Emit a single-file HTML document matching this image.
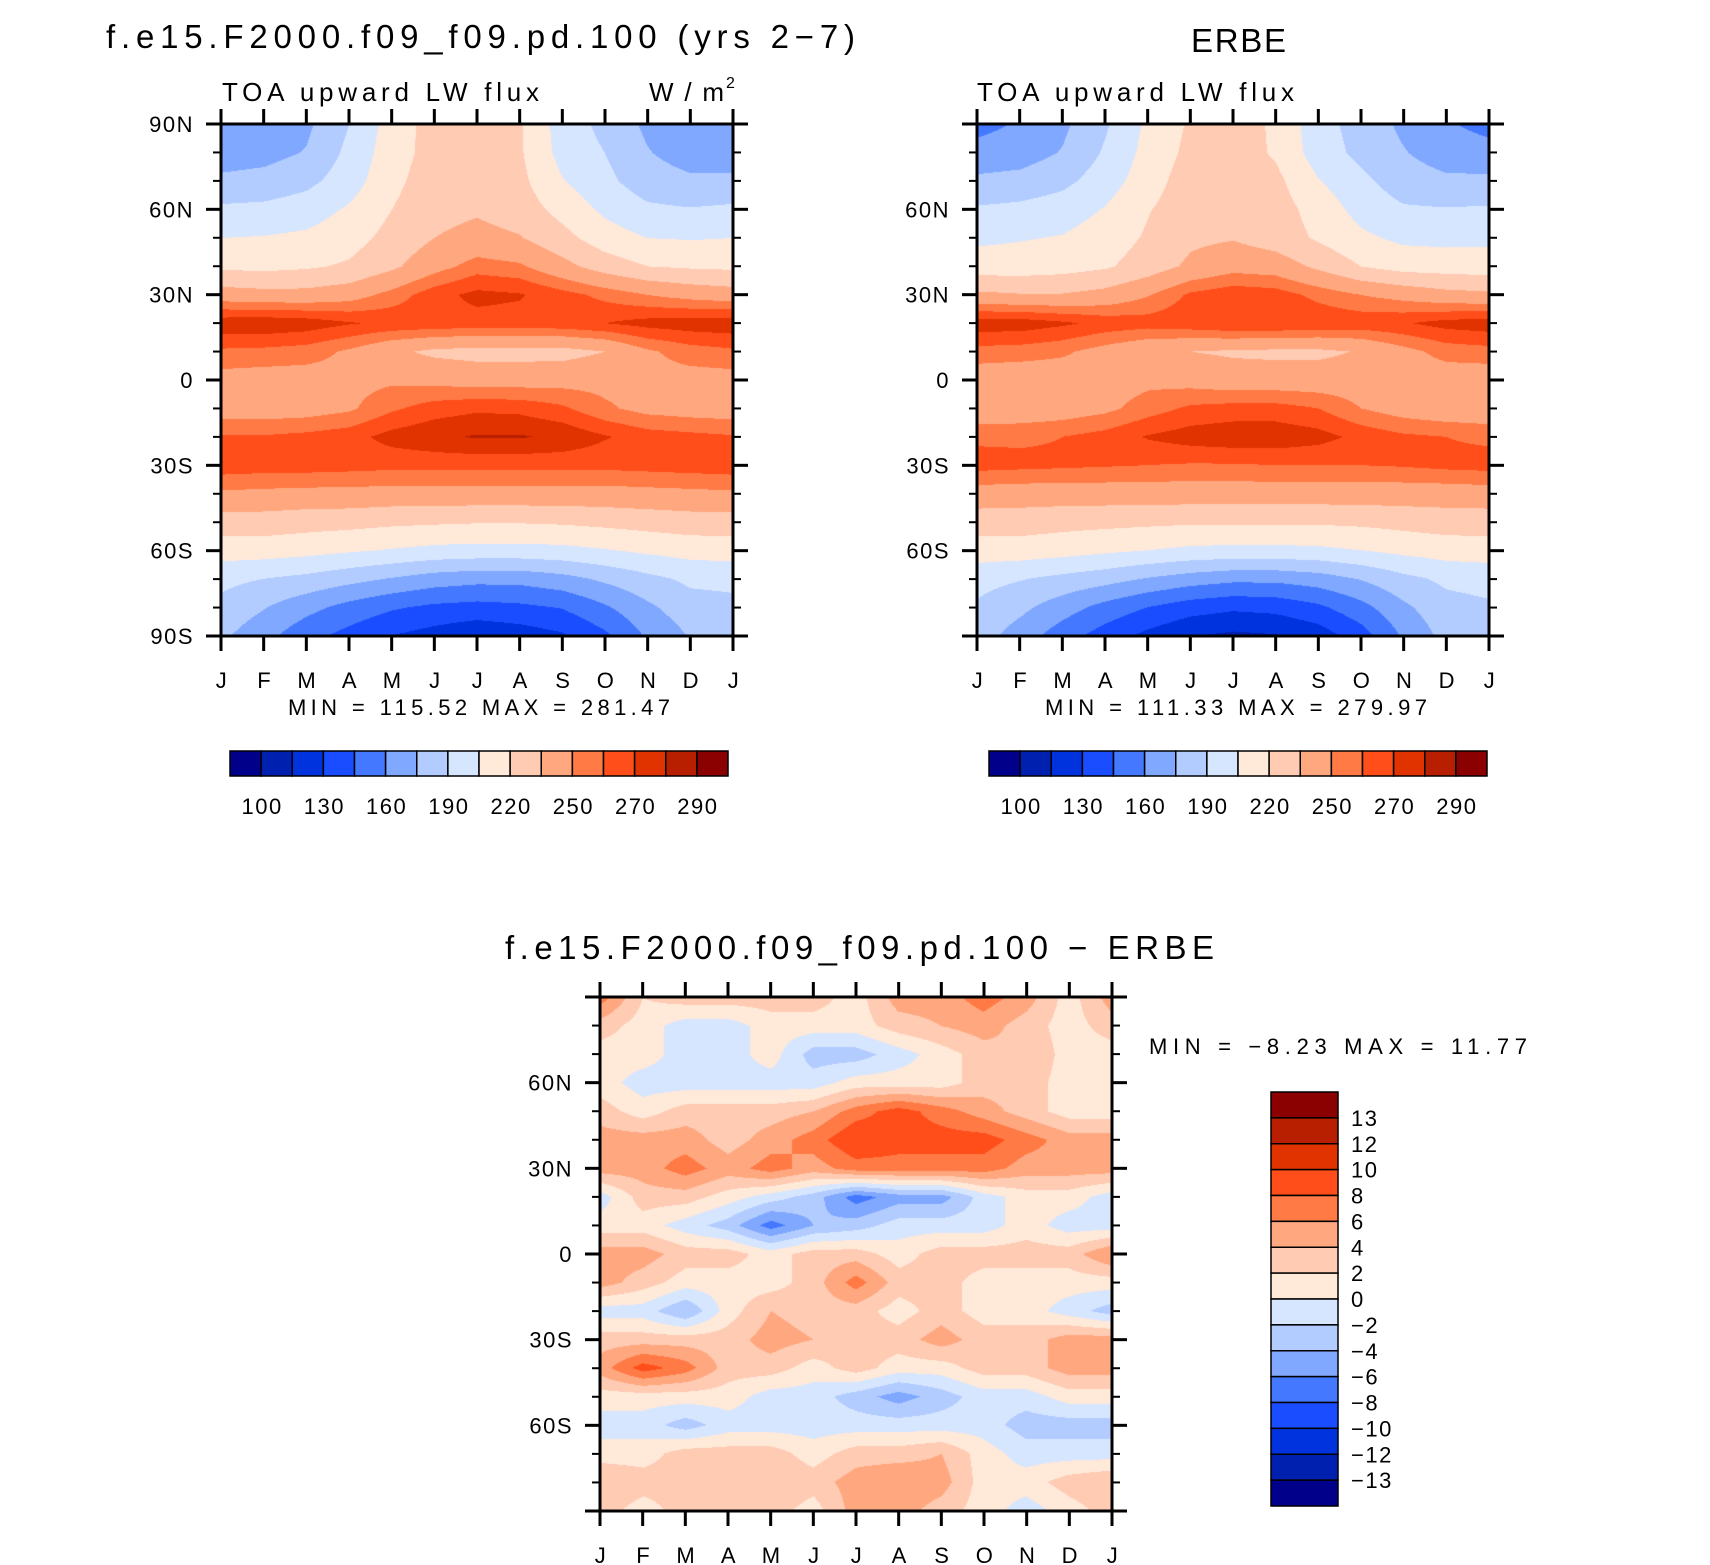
<!DOCTYPE html>
<html><head><meta charset="utf-8">
<style>
html,body{margin:0;padding:0;background:#fff;}
#wrap{position:relative;width:1710px;height:1565px;overflow:hidden;font-family:"Liberation Sans",sans-serif;}
canvas{position:absolute;}
svg{position:absolute;left:0;top:0;}
</style></head>
<body>
<div id="wrap">
<canvas id="c1" width="512" height="512" style="left:221px;top:124px"></canvas>
<canvas id="c2" width="512" height="512" style="left:977px;top:124px"></canvas>
<canvas id="c3" width="512" height="514" style="left:600px;top:997px"></canvas>
<svg id="ov" width="1710" height="1565"></svg>
</div>
<script>
const months = ["J","F","M","A","M","J","J","A","S","O","N","D","J"];
const latLabelsFull = ["90N","60N","30N","0","30S","60S","90S"];
const latLabelsPart = ["","60N","30N","0","30S","60S",""];
const absLevels = [100,115,130,145,160,175,190,205,220,235,250,260,270,280,290];
const absTickLabels = ["100","130","160","190","220","250","270","290"];
const diffLevels = [-13,-12,-10,-8,-6,-4,-2,0,2,4,6,8,10,12,13];
const diffTickLabels = ["13","12","10","8","6","4","2","0","\u22122","\u22124","\u22126","\u22128","\u221210","\u221212","\u221213"];
const colors = ["#00008a","#0020b0","#0033dd","#1a4dff","#4479ff","#80a8ff","#b3ccff","#d6e6ff","#ffe9d9","#ffcbb3","#ffa880","#ff7a45","#ff4e1a","#e03300","#b81e00","#8b0000"];
const modelVals = [
[165,166,172,190,212,226,228,222,198,186,172,166,165],
[168,170,176,194,213,226,228,222,200,190,176,168,168],
[178,180,186,198,216,228,230,224,206,194,182,178,178],
[193,194,198,207,220,230,233,228,215,202,193,191,193],
[205,206,208,214,225,235,240,236,225,212,205,204,205],
[217,216,218,222,232,245,255,252,240,228,220,218,217],
[242,240,240,244,254,266,273,271,264,257,250,245,242],
[277,278,276,271,268,267,266,266,267,270,274,276,277],
[258,257,255,248,238,232,230,230,230,235,248,255,258],
[245,244,244,246,248,246,244,244,245,246,246,245,245],
[243,243,244,248,258,265,268,267,262,252,246,244,243],
[261,261,263,266,274,278,281,281,278,271,265,263,261],
[266,265,265,264,263,263,263,263,263,263,264,265,266],
[248,247,246,246,245,245,245,245,245,245,246,247,248],
[228,228,226,225,223,222,221,221,222,224,226,228,228],
[212,212,210,207,204,201,200,200,201,204,208,211,212],
[194,190,186,180,174,168,165,165,170,178,186,193,194],
[186,176,165,155,147,142,140,142,146,158,172,184,186],
[178,165,150,140,130,124,118,122,128,142,162,176,178]];
const erbeVals = [
[155,162,172,188,208,222,226,218,196,184,172,162,155],
[166,168,176,192,210,224,228,218,198,186,176,168,166],
[178,180,186,198,213,228,232,224,206,194,182,178,178],
[192,194,198,206,219,229,232,227,214,200,192,191,192],
[202,204,206,212,222,232,234,228,218,208,202,201,202],
[212,212,214,218,227,238,245,243,232,220,214,213,212],
[238,236,236,240,249,262,267,265,257,250,245,240,238],
[276,276,272,267,265,267,270,270,268,267,269,274,276],
[256,255,252,245,238,235,233,232,232,236,246,254,256],
[242,241,242,244,247,245,242,242,242,243,243,243,242],
[240,241,243,247,255,262,264,264,260,250,244,241,240],
[258,258,260,264,271,275,277,277,274,267,262,260,258],
[264,263,262,261,260,259,259,260,260,260,261,263,264],
[244,243,243,243,243,243,243,243,243,243,243,243,244],
[227,227,225,224,223,222,222,222,222,223,225,227,227],
[213,213,211,208,205,202,201,201,202,205,209,212,213],
[195,191,186,181,174,168,164,164,168,176,186,193,195],
[188,179,167,155,145,137,133,135,142,155,172,185,188],
[182,168,152,138,126,116,112,114,122,138,162,180,182]];
const diffVals = [
[7,2,3,3,3,3,1,5,5,7,5,1,5],
[3,1,-1,-1,1,1,1,3,4,5,3,1,3],
[1,1,-1,-1,1,-3,-3,-1,1,3,4,1,1],
[1,-1,-1,-1,-1,-1,1,1,1,3,3,1,1],
[3,1,3,3,3,4,7,9,7,5,3,1,1],
[5,5,5,3,5,7,10,9,9,9,7,5,5],
[5,5,7,5,7,5,7,7,7,7,5,5,5],
[-1,3,3,1,-1,-3,-7,-5,-5,-1,1,1,-1],
[1,1,-1,-3,-7,-4,-3,-1,-1,-1,1,-1,-1],
[5,5,3,3,1,3,3,1,3,3,3,3,6],
[5,3,1,1,1,3,7,3,3,1,1,1,1],
[-1,-1,-4,1,4,3,3,1,3,1,1,-1,-3],
[3,3,3,3,5,4,3,3,5,3,3,5,5],
[5,9,7,3,3,1,3,1,1,3,3,5,5],
[1,1,1,1,-1,-1,-3,-5,-3,-1,-1,1,1],
[-1,-1,-3,-1,-1,-1,-1,-1,-1,-1,-3,-3,-3],
[1,1,3,3,3,1,3,3,4,1,-1,-1,-1],
[4,3,3,4,4,3,5,6,5,1,1,3,4],
[3,1,3,3,3,1,5,5,3,1,-1,1,3]];

function colorIdx(v, lv){let i=0;while(i<lv.length&&v>=lv[i])i++;return i;}
function hex(c){return [parseInt(c.substr(1,2),16),parseInt(c.substr(3,2),16),parseInt(c.substr(5,2),16)];}
const rgb = colors.map(hex);
function drawField(id, vals, lv){
  const cv=document.getElementById(id), ctx=cv.getContext('2d');
  const W=cv.width,H=cv.height, img=ctx.createImageData(W,H);
  const nr=vals.length, nc=vals[0].length;
  for(let y=0;y<H;y++){
    const fy=y/(H-1)*(nr-1), r0=Math.min(Math.floor(fy),nr-2), ty=fy-r0;
    for(let x=0;x<W;x++){
      const fx=x/(W-1)*(nc-1), c0=Math.min(Math.floor(fx),nc-2), tx=fx-c0;
      const v=(vals[r0][c0]*(1-tx)+vals[r0][c0+1]*tx)*(1-ty)+(vals[r0+1][c0]*(1-tx)+vals[r0+1][c0+1]*tx)*ty;
      const c=rgb[colorIdx(v,lv)], k=(y*W+x)*4;
      img.data[k]=c[0];img.data[k+1]=c[1];img.data[k+2]=c[2];img.data[k+3]=255;
    }
  }
  ctx.putImageData(img,0,0);
}
drawField('c1',modelVals,absLevels);
drawField('c2',erbeVals,absLevels);
drawField('c3',diffVals,diffLevels);

const NS="http://www.w3.org/2000/svg", ov=document.getElementById('ov');
function el(tag,attrs,txt){const e=document.createElementNS(NS,tag);for(const k in attrs)e.setAttribute(k,attrs[k]);if(txt!==undefined)e.textContent=txt;ov.appendChild(e);return e;}
function text(x,y,s,size,anchor,name,len){
  const a={x:x,y:y,'font-size':size,'text-anchor':anchor||'start','font-family':'"Liberation Sans",sans-serif',fill:'#000'};
  if(len){a.textLength=len;a.lengthAdjust='spacing';}
  const t=el('text',a,s);
  
  
  return t;
}
function tick(x,y,s,anchor,name){
  const t=text(x,y,s,22,anchor,name);
  t.setAttribute('letter-spacing','1.5');
  return t;
}
function axes(x0,y0,w,h,labels,lx,pfx){
  const b=el('rect',{x:x0,y:y0,width:w,height:h,fill:'none',stroke:'#000','stroke-width':3});
  
  
  for(let i=0;i<13;i++){
    const x=x0+w*i/12;
    el('line',{x1:x,y1:y0+h,x2:x,y2:y0+h+15,stroke:'#000','stroke-width':3});
    el('line',{x1:x,y1:y0,x2:x,y2:y0-15,stroke:'#000','stroke-width':3});
    tick(x+1,y0+h+52,months[i],'middle',pfx+'-month-label');
  }
  for(let j=0;j<=18;j++){
    const y=y0+h*j/18, L=(j%3==0)?15:8;
    el('line',{x1:x0,y1:y,x2:x0-L,y2:y,stroke:'#000','stroke-width':(j%3==0)?3:2});
    el('line',{x1:x0+w,y1:y,x2:x0+w+L,y2:y,stroke:'#000','stroke-width':(j%3==0)?3:2});
    if(j%3==0&&labels[j/3]) tick(lx,y+8,labels[j/3],'end',pfx+'-lat-label');
  }
}
axes(221,124,512,512,latLabelsFull,194,'model');
axes(977,124,512,512,latLabelsPart,950,'erbe');
axes(600,997,512,514,latLabelsPart,573,'diff');

function hbar(x0,y0,w,h,pfx){
  const bw=w/16;
  for(let i=0;i<16;i++){
    const r=el('rect',{x:x0+i*bw,y:y0,width:bw,height:h,fill:colors[i],stroke:'#000','stroke-width':1.5});
    
    
  }
  for(let k=0;k<absTickLabels.length;k++) tick(x0+bw*(2*k+1)+1,y0+h+38,absTickLabels[k],'middle',pfx+'-colorbar-label');
}
hbar(230,751,498,25,'model');
hbar(989,751,498,25,'erbe');
{
  const x0=1271,y0=1092,w=67,h=414,bh=h/16;
  for(let i=0;i<16;i++){
    const r=el('rect',{x:x0,y:y0+i*bh,width:w,height:bh,fill:colors[15-i],stroke:'#000','stroke-width':1.5});
    
    
  }
  for(let k=0;k<diffTickLabels.length;k++) tick(1351,y0+bh*(k+1)+8,diffTickLabels[k],'start','diff-colorbar-label');
}
text(106,48,"f.e15.F2000.f09_f09.pd.100 (yrs 2\u22127)",33,'start','model-title',749);
text(1191,52,"ERBE",33,'start','erbe-title',95);
text(222,101,"TOA upward LW flux",26,'start','model-variable-label',317);
text(649,101,"W/m",26,'start','units-label',75);
text(977,101,"TOA upward LW flux",26,'start','erbe-variable-label',317);
text(726,88,"2",16,'start','units-superscript');
text(288,715,"MIN = 115.52 MAX = 281.47",22,'start','model-min-max',382);
text(1045,715,"MIN = 111.33 MAX = 279.97",22,'start','erbe-min-max',382);
text(505,959,"f.e15.F2000.f09_f09.pd.100 \u2212 ERBE",33,'start','difference-title',709);
text(1149,1054,"MIN =   \u22128.23 MAX =   11.77",22,'start','diff-min-max',378);
</script>
</body></html>
